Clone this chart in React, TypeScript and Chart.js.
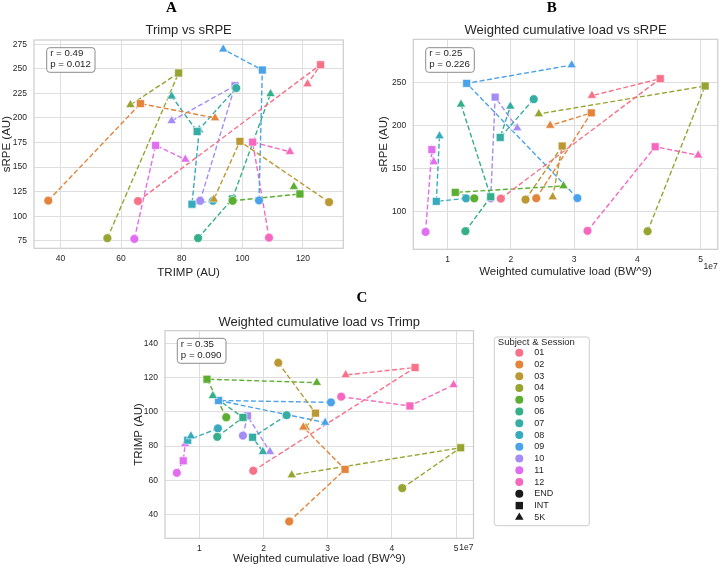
import React, { useEffect, useRef } from 'react';
import { Chart, registerables } from 'chart.js';

Chart.register(...registerables);

const FONT = '"Liberation Sans", Arial, Helvetica, sans-serif';
const SERIF = '"Liberation Serif", "Times New Roman", serif';
const TEXT = '#262626';
const GRID = '#dedede';
const FRAME = '#cccccc';

// Subjects and the three sessions, in the order they are joined by lines
const subjects = ['01', '02', '03', '04', '05', '06', '07', '08', '09', '10', '11', '12'];
const sessions = ['END', 'INT', '5K'];
const sessionShapes = ['circle', 'rect', 'triangle'];
const subjectColors = [
  '#f77189', '#e3843a', '#bb9832', '#97a431', '#5cae31', '#34af8a',
  '#36ada4', '#37aabd', '#4aa2ea', '#a48cf4', '#e16ef0', '#f668c0',
];

// Values per subject: [END, INT, 5K]
const trimp = [
  [65.6, 125.8, 121.5],
  [36.0, 66.4, 91.0],
  [128.6, 99.2, 90.6],
  [55.5, 79.0, 63.1],
  [96.8, 119.0, 117.0],
  [85.4, 96.7, 109.3],
  [98.0, 85.1, 76.7],
  [90.3, 83.4, 85.8],
  [105.5, 106.6, 93.7],
  [86.1, 97.6, 76.7],
  [64.4, 71.4, 81.2],
  [108.8, 103.4, 115.7],
];
const srpe = [
  [115.4, 254.2, 234.6],
  [115.8, 214.6, 200.0],
  [114.3, 176.2, 117.2],
  [77.6, 245.8, 213.4],
  [115.7, 122.6, 130.0],
  [77.7, 117.5, 224.5],
  [230.5, 186.2, 222.1],
  [115.7, 112.2, 187.8],
  [116.0, 248.8, 270.0],
  [115.7, 232.9, 197.0],
  [76.8, 172.1, 157.8],
  [78.1, 175.4, 165.6],
];
const wcl = [
  [1.84e7, 4.36e7, 3.28e7],
  [2.40e7, 3.27e7, 2.62e7],
  [2.23e7, 2.81e7, 2.66e7],
  [4.16e7, 5.07e7, 2.44e7],
  [1.42e7, 1.12e7, 2.83e7],
  [1.28e7, 1.68e7, 1.21e7],
  [2.36e7, 1.83e7, 1.99e7],
  [1.29e7, 0.82e7, 0.87e7],
  [3.05e7, 1.30e7, 2.96e7],
  [1.68e7, 1.75e7, 2.10e7],
  [0.65e7, 0.75e7, 0.78e7],
  [3.21e7, 4.28e7, 4.96e7],
];

// Ticks
const trimpTicksA = [40, 60, 80, 100, 120];
const trimpTickLabelsA = ['40', '60', '80', '100', '120'];
const srpeTicksA = [75, 100, 125, 150, 175, 200, 225, 250, 275];
const srpeTickLabelsA = ['75', '100', '125', '150', '175', '200', '225', '250', '275'];
const srpeTicksB = [100, 150, 200, 250];
const srpeTickLabelsB = ['100', '150', '200', '250'];
const wclTicks = [1e7, 2e7, 3e7, 4e7, 5e7];
const wclTickLabels = ['1', '2', '3', '4', '5'];
const trimpTicksC = [40, 60, 80, 100, 120, 140];
const trimpTickLabelsC = ['40', '60', '80', '100', '120', '140'];

// Correlation annotations
const statsA = ['r = 0.49', 'p = 0.012'];
const statsB = ['r = 0.25', 'p = 0.226'];
const statsC = ['r = 0.35', 'p = 0.090'];

type Box = { left: number; top: number; right: number; bottom: number };
type Panel = {
  pos: { left: number; top: number; width: number; height: number };
  area: Box;
  xs: number[][];
  ys: number[][];
  xRange: [number, number];
  yRange: [number, number];
  xTicks: number[];
  xTickLabels: string[];
  yTicks: number[];
  yTickLabels: string[];
  title: string;
  titleY: number;
  letter: string;
  letterX: number;
  letterY: number;
  xLabel: string;
  xLabelY: number;
  yLabel: string;
  yLabelX: number;
  stats: string[];
  statBox: { x: number; y: number; w: number; h: number };
  offsetText?: { text: string; y: number };
  legend?: { x: number; y: number; w: number; h: number };
};

function roundRectPath(ctx: CanvasRenderingContext2D, x: number, y: number, w: number, h: number, r: number) {
  ctx.beginPath();
  ctx.moveTo(x + r, y);
  ctx.lineTo(x + w - r, y);
  ctx.arcTo(x + w, y, x + w, y + r, r);
  ctx.lineTo(x + w, y + h - r);
  ctx.arcTo(x + w, y + h, x + w - r, y + h, r);
  ctx.lineTo(x + r, y + h);
  ctx.arcTo(x, y + h, x, y + h - r, r);
  ctx.lineTo(x, y + r);
  ctx.arcTo(x, y, x + r, y, r);
  ctx.closePath();
}

function drawMarker(ctx: CanvasRenderingContext2D, shape: string, x: number, y: number, size: number, color: string) {
  ctx.fillStyle = color;
  ctx.beginPath();
  if (shape === 'circle') {
    ctx.arc(x, y, size / 2, 0, Math.PI * 2);
  } else if (shape === 'rect') {
    ctx.rect(x - size / 2, y - size / 2, size, size);
  } else {
    const r = size * 0.62;
    ctx.moveTo(x, y - r);
    ctx.lineTo(x + r * 0.866, y + r * 0.5);
    ctx.lineTo(x - r * 0.866, y + r * 0.5);
    ctx.closePath();
  }
  ctx.fill();
}

function drawLegend(ctx: CanvasRenderingContext2D, L: { x: number; y: number; w: number; h: number }) {
  ctx.save();
  roundRectPath(ctx, L.x, L.y, L.w, L.h, 2.5);
  ctx.fillStyle = 'rgba(255,255,255,0.85)';
  ctx.fill();
  ctx.strokeStyle = FRAME;
  ctx.lineWidth = 1;
  ctx.stroke();
  ctx.fillStyle = TEXT;
  ctx.font = `9.5px ${FONT}`;
  ctx.textBaseline = 'middle';
  ctx.textAlign = 'left';
  ctx.fillText('Subject & Session', L.x + 3.5, L.y + 5.2);
  ctx.font = `9px ${FONT}`;
  const step = 11.76;
  const rows = [
    ...subjects.map((s, i) => ({ label: s, shape: 'circle', color: subjectColors[i] })),
    ...sessions.map((s, i) => ({ label: s, shape: sessionShapes[i], color: '#1a1a1a' })),
  ];
  rows.forEach((row, i) => {
    const y = L.y + 15.7 + i * step;
    drawMarker(ctx, row.shape, L.x + 25, y, row.shape === 'rect' ? 7.4 : 8, row.color);
    ctx.fillStyle = TEXT;
    ctx.fillText(row.label, L.x + 40, y);
  });
  ctx.restore();
}

function makeDecor(p: Panel) {
  return {
    id: 'panelDecor',
    beforeDatasetsDraw(chart: Chart) {
      const { ctx, chartArea: a } = chart;
      ctx.save();
      ctx.strokeStyle = FRAME;
      ctx.lineWidth = 1.2;
      ctx.strokeRect(a.left, a.top, a.right - a.left, a.bottom - a.top);
      ctx.restore();
    },
    afterDraw(chart: Chart) {
      const { ctx, chartArea: a } = chart;
      const cx = (a.left + a.right) / 2;
      const cy = (a.top + a.bottom) / 2;
      ctx.save();
      ctx.fillStyle = TEXT;
      ctx.textAlign = 'center';
      ctx.textBaseline = 'middle';

      ctx.font = `13px ${FONT}`;
      ctx.fillText(p.title, cx, p.titleY);

      ctx.font = `bold 15px ${SERIF}`;
      ctx.fillStyle = '#000000';
      ctx.fillText(p.letter, p.letterX, p.letterY);
      ctx.fillStyle = TEXT;

      ctx.font = `11.5px ${FONT}`;
      ctx.fillText(p.xLabel, cx, p.xLabelY);
      ctx.save();
      ctx.translate(p.yLabelX, cy);
      ctx.rotate(-Math.PI / 2);
      ctx.fillText(p.yLabel, 0, 0);
      ctx.restore();

      if (p.offsetText) {
        ctx.font = `8.5px ${FONT}`;
        ctx.textAlign = 'right';
        ctx.fillText(p.offsetText.text, a.right, p.offsetText.y);
      }

      // correlation box
      const b = p.statBox;
      roundRectPath(ctx, b.x, b.y, b.w, b.h, 3);
      ctx.fillStyle = 'rgba(255,255,255,0.85)';
      ctx.fill();
      ctx.strokeStyle = '#8c8c8c';
      ctx.lineWidth = 1;
      ctx.stroke();
      ctx.fillStyle = TEXT;
      ctx.font = `9.7px ${FONT}`;
      ctx.textAlign = 'left';
      p.stats.forEach((s, i) => ctx.fillText(s, b.x + 3.5, b.y + 6 + i * 10.8));

      if (p.legend) drawLegend(ctx, p.legend);
      ctx.restore();
    },
  };
}

function buildConfig(p: Panel): any {
  const { width: W, height: H } = p.pos;
  const lineSets = subjects.map((s, i) => ({
    label: `${s} line`,
    data: sessions.map((_, k) => ({ x: p.xs[i][k], y: p.ys[i][k] })),
    showLine: true,
    borderColor: subjectColors[i],
    borderWidth: 1.4,
    borderDash: [5, 2.5],
    pointRadius: 0,
    fill: false,
    tension: 0,
    order: 2,
  }));
  const pointSets = subjects.map((s, i) => ({
    label: s,
    data: sessions.map((_, k) => ({ x: p.xs[i][k], y: p.ys[i][k] })),
    showLine: false,
    backgroundColor: subjectColors[i],
    borderColor: '#ffffff',
    borderWidth: 0.6,
    pointStyle: (c: any) => sessionShapes[c.dataIndex],
    pointRadius: (c: any) => [4.4, 5.6, 5.4][c.dataIndex],
    order: 1,
  }));
  const tickFont = { family: FONT, size: 8.5 };
  return {
    type: 'scatter',
    data: { datasets: [...lineSets, ...pointSets] },
    options: {
      animation: false,
      responsive: false,
      devicePixelRatio: 1,
      events: [],
      layout: { padding: { left: 0, top: p.area.top, right: W - p.area.right, bottom: 0 } },
      scales: {
        x: {
          type: 'linear',
          position: 'bottom',
          min: p.xRange[0],
          max: p.xRange[1],
          bounds: 'data',
          afterBuildTicks: (s: any) => {
            s.ticks = p.xTicks.map((v) => ({ value: v }));
          },
          afterFit: (s: any) => {
            s.height = H - p.area.bottom;
          },
          ticks: {
            color: TEXT,
            font: tickFont,
            padding: 5,
            maxRotation: 0,
            autoSkip: false,
            callback: (v: number) => p.xTickLabels[p.xTicks.indexOf(v)] ?? '',
          },
          grid: { color: GRID, lineWidth: 1, drawTicks: false },
          border: { display: false },
        },
        y: {
          type: 'linear',
          position: 'left',
          min: p.yRange[0],
          max: p.yRange[1],
          bounds: 'data',
          afterBuildTicks: (s: any) => {
            s.ticks = p.yTicks.map((v) => ({ value: v }));
          },
          afterFit: (s: any) => {
            s.width = p.area.left;
          },
          ticks: {
            color: TEXT,
            font: tickFont,
            padding: 7,
            autoSkip: false,
            callback: (v: number) => p.yTickLabels[p.yTicks.indexOf(v)] ?? '',
          },
          grid: { color: GRID, lineWidth: 1, drawTicks: false },
          border: { display: false },
        },
      },
      plugins: {
        legend: { display: false },
        tooltip: { enabled: false },
        title: { display: false },
      },
    },
    plugins: [makeDecor(p)],
  };
}

const panels: Panel[] = [
  {
    pos: { left: 0, top: 0, width: 362, height: 285 },
    area: { left: 34, top: 40, right: 343.3, bottom: 248.3 },
    xs: trimp,
    ys: srpe,
    xRange: [31.3, 133.3],
    yRange: [67.3, 279.4],
    xTicks: trimpTicksA,
    xTickLabels: trimpTickLabelsA,
    yTicks: srpeTicksA,
    yTickLabels: srpeTickLabelsA,
    title: 'Trimp vs sRPE',
    titleY: 30,
    letter: 'A',
    letterX: 171.5,
    letterY: 8.5,
    xLabel: 'TRIMP (AU)',
    xLabelY: 273,
    yLabel: 'sRPE (AU)',
    yLabelX: 7,
    stats: statsA,
    statBox: { x: 46.7, y: 47.7, w: 48.3, h: 24.6 },
  },
  {
    pos: { left: 362, top: 0, width: 362, height: 285 },
    area: { left: 51.3, top: 39.3, right: 360.5, bottom: 249.3 },
    xs: wcl,
    ys: srpe,
    xRange: [0.456e7, 5.27e7],
    yRange: [56.7, 299.8],
    xTicks: wclTicks,
    xTickLabels: wclTickLabels,
    yTicks: srpeTicksB,
    yTickLabels: srpeTickLabelsB,
    title: 'Weighted cumulative load vs sRPE',
    titleY: 30,
    letter: 'B',
    letterX: 189.7,
    letterY: 8.5,
    xLabel: 'Weighted cumulative load (BW^9)',
    xLabelY: 272,
    yLabel: 'sRPE (AU)',
    yLabelX: 22,
    stats: statsB,
    statBox: { x: 63.7, y: 47.7, w: 48.6, h: 24.6 },
    offsetText: { text: '1e7', y: 267 },
  },
  {
    pos: { left: 0, top: 285, width: 724, height: 281 },
    area: { left: 165, top: 45.7, right: 473.5, bottom: 253.3 },
    xs: wcl,
    ys: trimp,
    xRange: [0.466e7, 5.27e7],
    yRange: [26.2, 147.3],
    xTicks: wclTicks,
    xTickLabels: wclTickLabels,
    yTicks: trimpTicksC,
    yTickLabels: trimpTickLabelsC,
    title: 'Weighted cumulative load vs Trimp',
    titleY: 37,
    letter: 'C',
    letterX: 362,
    letterY: 13.3,
    xLabel: 'Weighted cumulative load (BW^9)',
    xLabelY: 274,
    yLabel: 'TRIMP (AU)',
    yLabelX: 139,
    stats: statsC,
    statBox: { x: 177.3, y: 53.3, w: 48.7, h: 25 },
    offsetText: { text: '1e7', y: 263 },
    legend: { x: 494.3, y: 52, w: 95, h: 188.7 },
  },
];

function PanelChart({ panel }: { panel: Panel }) {
  const ref = useRef<HTMLCanvasElement | null>(null);
  useEffect(() => {
    if (!ref.current) return;
    const chart = new Chart(ref.current, buildConfig(panel));
    return () => chart.destroy();
  }, [panel]);
  const { left, top, width, height } = panel.pos;
  return (
    <canvas
      ref={ref}
      width={width}
      height={height}
      style={{ position: 'absolute', left, top, width, height }}
    />
  );
}

export default function App() {
  return (
    <div style={{ position: 'fixed', left: 0, top: 0, width: 724, height: 566, background: '#ffffff' }}>
      {panels.map((p) => (
        <PanelChart key={p.letter} panel={p} />
      ))}
    </div>
  );
}
